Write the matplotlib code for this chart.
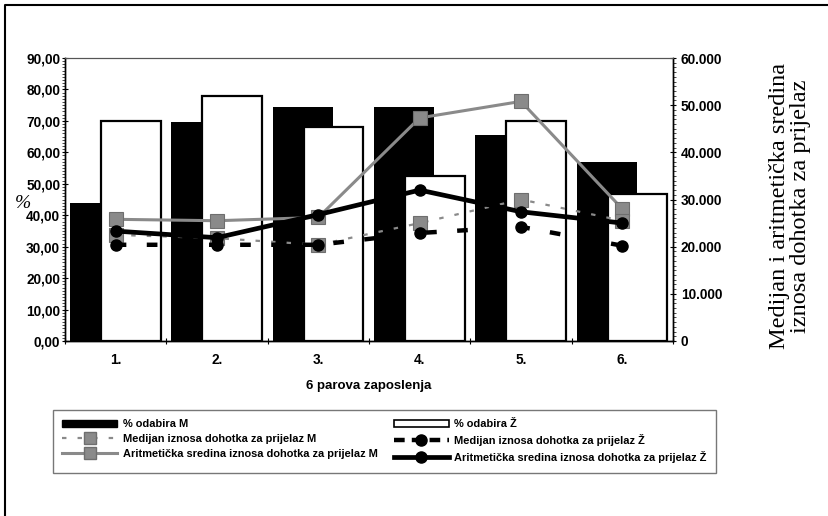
import matplotlib
matplotlib.use("Agg")
import matplotlib.pyplot as plt
from matplotlib.lines import Line2D
from matplotlib.patches import Patch
from matplotlib.ticker import FixedLocator, MultipleLocator, FuncFormatter

# pairs of jobs
categories = ["1.", "2.", "3.", "4.", "5.", "6."]

# share of choices (%), left axis
odabir_m = [43.8, 69.8, 74.4, 74.4, 65.5, 56.8]
odabir_z = [70.1, 78.0, 68.0, 52.6, 70.1, 46.8]

# income for switching, right axis
median_m = [22500, 21800, 20400, 25000, 30000, 25500]
median_z = [20400, 20400, 20400, 22900, 24200, 20200]
arit_m = [25800, 25500, 26200, 47300, 50800, 28000]
arit_z = [23300, 21900, 26800, 32000, 27400, 25000]

plt.rcParams["font.family"] = ["Liberation Sans", "DejaVu Sans"]

W, H = 829, 516
fig = plt.figure(figsize=(W / 100, H / 100), dpi=100)
ax = fig.add_axes([65 / W, 1 - 341 / H, (673 - 65) / W, (341 - 58) / H])
ax2 = ax.twinx()

x = list(range(len(categories)))
bw = 0.59
ax.bar([i - 0.155 for i in x], odabir_m, width=bw, color="black", zorder=2)
ax.bar([i + 0.15 for i in x], odabir_z, width=bw, facecolor="white",
       edgecolor="black", linewidth=1.6, zorder=3)

ax.set_xlim(-0.5, 5.5)
ax.set_ylim(0, 90)
ax2.set_ylim(0, 60000)

grey = "#8a8a8a"
ax2.plot(x, arit_m, color=grey, lw=2.2, marker="s", ms=10, mfc=grey,
         mec="#6e6e6e", mew=0.8, zorder=4)
ax2.plot(x, median_m, color=grey, lw=1.6, dashes=(2, 5), marker="s", ms=10,
         mfc=grey, mec="#6e6e6e", mew=0.8, zorder=4)
ax2.plot(x, median_z, color="black", lw=3.2, dashes=(2.4, 4.6), marker="o",
         ms=8, zorder=5)
ax2.plot(x, arit_z, color="black", lw=3.4, marker="o", ms=8, zorder=6)

tick_size = 9.8

# left axis
ax.yaxis.set_major_locator(MultipleLocator(10))
ax.yaxis.set_minor_locator(MultipleLocator(1))
ax.yaxis.set_major_formatter(FuncFormatter(lambda v, p: f"{v:.2f}".replace(".", ",")))
ax.tick_params(axis="y", which="major", direction="inout", length=5, width=0.8, pad=1)
ax.tick_params(axis="y", which="minor", direction="out", length=2, width=0.5)
for lab in ax.get_yticklabels():
    lab.set_fontsize(tick_size)
    lab.set_fontweight("bold")

# right axis
ax2.yaxis.set_major_locator(MultipleLocator(10000))
ax2.yaxis.set_minor_locator(MultipleLocator(1000))
ax2.yaxis.set_major_formatter(FuncFormatter(lambda v, p: f"{int(v):,}".replace(",", ".")))
ax2.tick_params(axis="y", which="major", direction="inout", length=5, width=0.8, pad=3)
ax2.tick_params(axis="y", which="minor", direction="out", length=2, width=0.5)
for lab in ax2.get_yticklabels():
    lab.set_fontsize(tick_size)
    lab.set_fontweight("bold")

# category axis: ticks between groups, labels at centres
ax.xaxis.set_major_locator(FixedLocator(x))
ax.xaxis.set_minor_locator(FixedLocator([i + 0.5 for i in range(-1, 6)]))
ax.set_xticklabels(categories, fontsize=tick_size, fontweight="bold")
ax.tick_params(axis="x", which="major", length=0, pad=9)
ax.tick_params(axis="x", which="minor", direction="inout", length=5, width=0.8)
ax.set_xlabel("6 parova zaposlenja", fontsize=9.5, fontweight="bold", labelpad=9)

for a in (ax, ax2):
    a.spines["top"].set_linestyle((0, (1, 1)))
    a.spines["top"].set_color("#555555")
    for s in ("left", "right", "bottom"):
        a.spines[s].set_linewidth(1.0)

fig.text(23 / W, 1 - 203 / H, "%", fontsize=14, style="italic",
         family="Liberation Serif", ha="center", va="center")
fig.text(790 / W, 1 - 206 / H, "Medijan i aritmetička sredina\niznosa dohotka za prijelaz",
         rotation=90, fontsize=17.5, family="Liberation Serif", ha="center",
         va="center", linespacing=1.05)

handles = [
    Patch(facecolor="black", edgecolor="black"),
    Line2D([], [], color=grey, lw=1.6, dashes=(2, 5), marker="s", ms=9,
           mfc=grey, mec="#6e6e6e"),
    Line2D([], [], color=grey, lw=2.2, marker="s", ms=9, mfc=grey, mec="#6e6e6e"),
    Patch(facecolor="white", edgecolor="black", linewidth=1.2),
    Line2D([], [], color="black", lw=3.2, dashes=(2.4, 1.6), marker="o", ms=8),
    Line2D([], [], color="black", lw=3.4, marker="o", ms=8),
]
labels = [
    "% odabira M",
    "Medijan iznosa dohotka za prijelaz M",
    "Aritmetička sredina iznosa dohotka za prijelaz M",
    "% odabira Ž",
    "Medijan iznosa dohotka za prijelaz Ž",
    "Aritmetička sredina iznosa dohotka za prijelaz Ž",
]
leg = fig.legend(handles, labels, ncol=2, loc="upper left",
                 bbox_to_anchor=(53 / W, 1 - 410 / H),
                 prop=dict(weight="bold", size=7.9),
                 handlelength=5.0, handleheight=0.7, handletextpad=0.5,
                 labelspacing=0.45, columnspacing=1.5, borderpad=0.85,
                 borderaxespad=0, fancybox=False, framealpha=1, edgecolor="#777777")
leg.get_frame().set_linewidth(1.0)

# page frame
fig.add_artist(Line2D([5 / W, 5 / W, 1.0], [0.0, 1 - 5 / H, 1 - 5 / H],
                      transform=fig.transFigure, color="black", lw=1.5))

fig.savefig("out.png", dpi=100)
